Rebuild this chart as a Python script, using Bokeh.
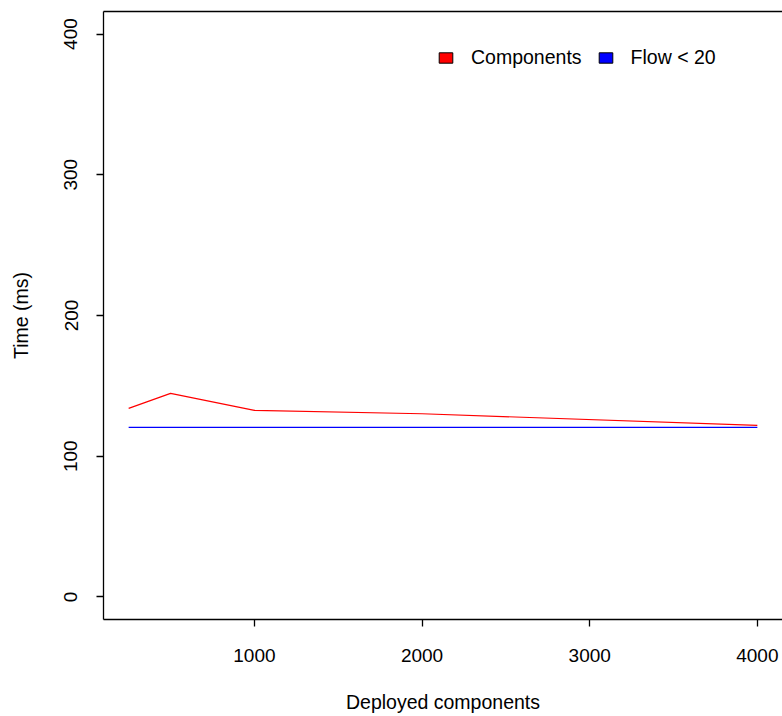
from bokeh.plotting import figure
from bokeh.models import (Range1d, FixedTicker, LinearAxis, Legend, LegendItem,
                          ColumnDataSource)
from bokeh.embed import file_html
from bokeh.resources import INLINE

# ---- data ----
deployed = [250, 500, 1000, 2000, 4000]
components_ms = [134.0, 144.7, 132.6, 130.2, 121.9]
flow_ms = [120.5, 120.5, 120.5, 120.5, 120.5]

x_ticks = [1000, 2000, 3000, 4000]
y_ticks = [0, 100, 200, 300, 400]

series_names = ["Components", "Flow < 20"]
series_colors = ["red", "blue"]

FONT = "Liberation Sans"
FS = "19px"
FS_LABEL = "19.5px"

p = figure(width=782, height=716, output_backend="svg", toolbar_location=None,
           x_range=Range1d(100, 4150), y_range=Range1d(-16, 416),
           min_border_left=103, min_border_right=0, min_border_top=11,
           min_border_bottom=97, x_axis_location=None, y_axis_location=None)
p.grid.visible = False
p.outline_line_color = None
p.background_fill_color = "white"
p.border_fill_color = "white"

def style_axis(ax):
    ax.axis_line_color = "black"
    ax.axis_line_width = 1.3
    ax.major_tick_line_color = "black"
    ax.major_tick_line_width = 1.3
    ax.major_tick_in = 0
    ax.major_tick_out = 7
    ax.minor_tick_line_color = None
    ax.major_label_text_font = FONT
    ax.major_label_text_font_size = FS
    ax.major_label_text_color = "black"
    ax.axis_label_text_font = FONT
    ax.axis_label_text_font_size = FS_LABEL
    ax.axis_label_text_font_style = "normal"
    ax.axis_label_text_color = "black"

xaxis = LinearAxis(ticker=FixedTicker(ticks=x_ticks), axis_label="Deployed components")
style_axis(xaxis)
xaxis.major_label_standoff = 22
xaxis.axis_label_standoff = 26
p.add_layout(xaxis, "below")

yaxis = LinearAxis(ticker=FixedTicker(ticks=y_ticks), axis_label="Time (ms)")
style_axis(yaxis)
yaxis.major_label_orientation = "vertical"
yaxis.major_label_standoff = 19
yaxis.axis_label_standoff = 30
p.add_layout(yaxis, "left")

top = LinearAxis(ticker=FixedTicker(ticks=[]))
top.axis_line_color = "black"
top.axis_line_width = 1.3
top.major_tick_out = 0
top.major_tick_in = 0
top.minor_tick_line_color = None
top.major_label_text_font_size = "0px"
top.major_label_standoff = 0
p.add_layout(top, "above")

r1 = p.line(deployed, components_ms, line_color=series_colors[0], line_width=1.2)
r2 = p.line(deployed, flow_ms, line_color=series_colors[1], line_width=1.2)

# legend-only boxes (not drawn in the plot area: NaN coordinates)
nan = float("nan")
boxes = []
for c in series_colors:
    src = ColumnDataSource(data=dict(l=[nan], r=[nan], t=[nan], b=[nan]))
    boxes.append(p.quad(left="l", right="r", top="t", bottom="b", source=src,
                        fill_color=c, line_color="black", line_width=1))

legend = Legend(items=[LegendItem(label=n, renderers=[b]) for n, b in zip(series_names, boxes)],
                orientation="horizontal", location=(334, 550))
legend.glyph_width = 17
legend.glyph_height = 13
legend.label_standoff = 17
legend.spacing = 15
legend.padding = 0
legend.margin = 0
legend.border_line_color = None
legend.background_fill_alpha = 0
legend.label_text_font = FONT
legend.label_text_font_size = FS_LABEL
legend.label_text_color = "black"
p.add_layout(legend)

open("out.html", "w").write(file_html(p, INLINE))
